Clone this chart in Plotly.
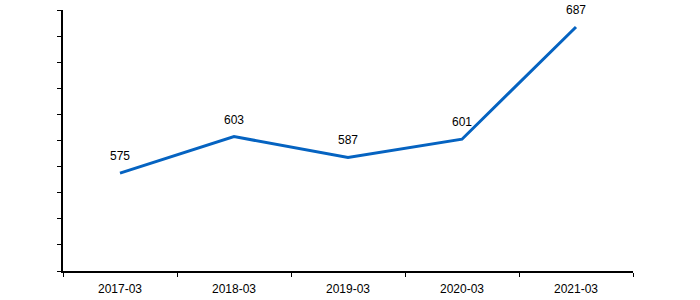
import plotly.graph_objects as go

categories = ["2017-03", "2018-03", "2019-03", "2020-03", "2021-03"]
values = [575, 603, 587, 601, 687]
labels = [str(v) for v in values]

fig = go.Figure()
fig.add_trace(go.Scatter(
    x=categories, y=values, mode="lines",
    line=dict(color="#0563C1", width=3),
    hoverinfo="skip", showlegend=False,
))
for c, v, t in zip(categories, values, labels):
    fig.add_annotation(x=c, y=v, text=t, showarrow=False, yshift=17,
                       yanchor="middle", xanchor="center",
                       font=dict(family="Liberation Sans, Arial", size=12, color="#000000"))

fig.update_layout(
    width=700, height=300,
    margin=dict(l=63, r=67, t=10, b=29, autoexpand=False),
    paper_bgcolor="white", plot_bgcolor="white",
    font=dict(family="Liberation Sans, Arial", size=12, color="#000000"),
)
fig.update_xaxes(
    type="category", range=[-0.5, 4.5], tickson="boundaries",
    ticks="outside", ticklen=4, tickcolor="#000000", tickwidth=1,
    ticklabelstandoff=6, automargin=False,
    showline=True, linecolor="#000000", linewidth=1.5,
    showgrid=False, zeroline=False,
    tickfont=dict(size=12, color="#000000"),
)
fig.update_yaxes(
    range=[500, 700], dtick=20, tick0=500,
    ticks="outside", ticklen=4, tickcolor="#000000", tickwidth=1,
    showticklabels=False, automargin=False,
    showline=True, linecolor="#000000", linewidth=1.5,
    showgrid=False, zeroline=False,
)

fig.write_html("out.html")
